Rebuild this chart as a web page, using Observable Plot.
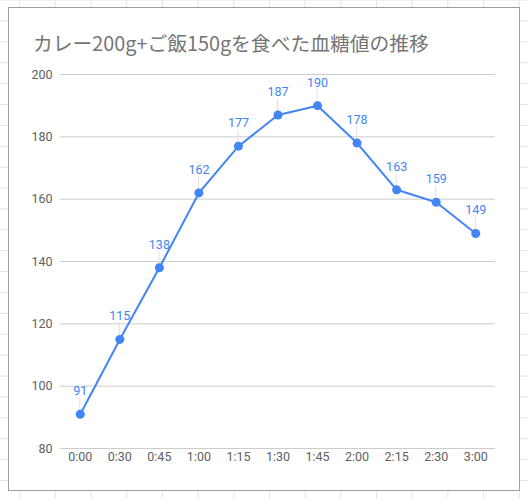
<!DOCTYPE html>
<html>
<head>
<meta charset="utf-8">
<script src="https://cdn.jsdelivr.net/npm/d3@7"></script>
<script src="https://cdn.jsdelivr.net/npm/@observablehq/plot@0.6"></script>
<style>
  html, body { margin: 0; padding: 0; }
  body {
    width: 529px; height: 498px; position: relative; overflow: hidden;
    background-color: #fff;
    background-image:
      repeating-linear-gradient(to bottom, transparent 0, transparent 20px, #e3e3e3 20px, #e3e3e3 21px),
      repeating-linear-gradient(to right, transparent 0, transparent 18.9px, #e3e3e3 18.9px, #e3e3e3 19.9px, transparent 19.9px, transparent 35.7px);
    background-size: 100% 20.9px, 35.7px 100%;
    background-position: 0 0.5px, 0.3px 0;
    background-repeat: repeat;
  }
  #box {
    position: absolute; left: 8px; top: 7px; width: 510px; height: 482px;
    border: 1px solid #9e9e9e; background: #fff;
  }
  #title {
    position: absolute; left: 33px; top: 28px;
    font-family: "Noto Sans CJK JP", "Noto Sans", sans-serif;
    font-size: 19.8px; color: #757575; white-space: nowrap;
  }
  #chart { position: absolute; left: 0; top: 0; }
</style>
</head>
<body>
<div id="box"></div>
<div id="title">カレー200g+ご飯150gを食べた血糖値の推移</div>
<div id="chart"></div>
<script>
const times = ["0:00","0:30","0:45","1:00","1:15","1:30","1:45","2:00","2:15","2:30","3:00"];
const glucose = [91, 115, 138, 162, 177, 187, 190, 178, 163, 159, 149];
const yTicks = [80, 100, 120, 140, 160, 180, 200];

const data = times.map((t, i) => ({time: t, value: glucose[i]}));
const blue = "#4285F4";

const chart = Plot.plot({
  width: 529,
  height: 498,
  marginLeft: 60,
  marginRight: 34,
  marginTop: 74,
  marginBottom: 50,
  style: {fontFamily: "Roboto, 'Liberation Sans', Arial, sans-serif", fontSize: "12px", background: "transparent", overflow: "visible"},
  x: {type: "point", domain: times, padding: 0.5, round: false, label: null},
  y: {domain: [80, 200], ticks: yTicks, label: null},
  marks: [
    Plot.ruleY(yTicks, {stroke: "#cccccc", strokeWidth: 1}),
    Plot.axisY({ticks: yTicks, tickSize: 0, tickPadding: 8, fill: "#616161", label: null, fontSize: 12.5}),
    Plot.axisX({tickSize: 0, tickPadding: 4, fill: "#616161", label: null, fontSize: 12.5}),
    Plot.line(data, {x: "time", y: "value", stroke: blue, strokeWidth: 2}),
    Plot.dot(data, {x: "time", y: "value", r: 4.5, fill: blue, stroke: "none"}),
    Plot.text(data, {x: "time", y: "value", text: d => String(d.value), dy: -23, fill: blue, fontSize: 12.5})
  ]
});
// leader lines from label to point
const svg = d3.select(chart);
const xs = chart.scale("x"), ys = chart.scale("y");
const g = svg.insert("g", "g[aria-label='line']");
data.forEach(d => {
  const x = xs.apply(d.time), y = ys.apply(d.value);
  g.append("line").attr("x1", x).attr("x2", x).attr("y1", y).attr("y2", y - 16)
    .attr("stroke", "#e0e0e0").attr("stroke-width", 1);
});
document.getElementById("chart").appendChild(chart);
</script>
</body>
</html>
